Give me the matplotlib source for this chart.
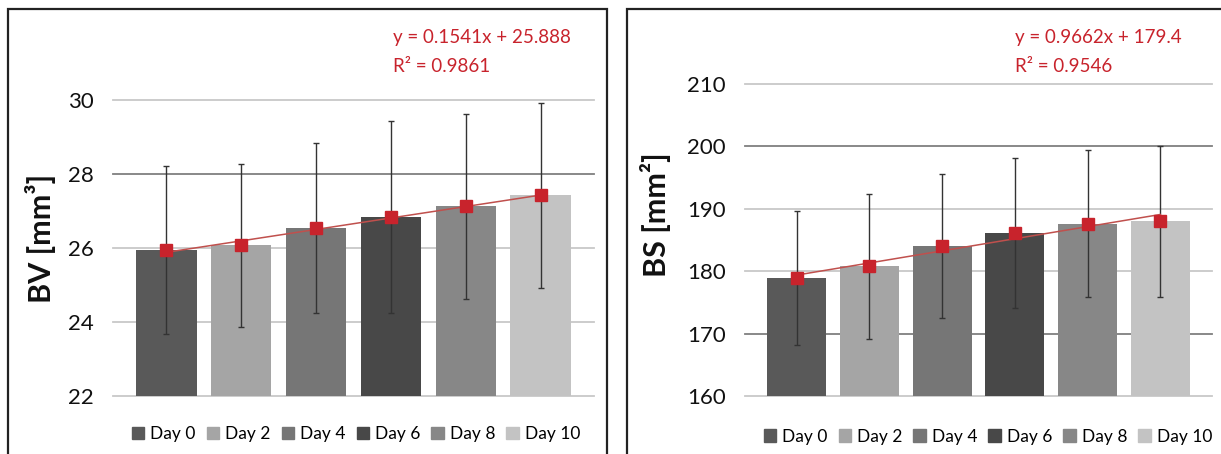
import numpy as np
import matplotlib

matplotlib.use('Agg')
from matplotlib import pyplot as plt
from matplotlib.patches import Rectangle, Patch

plt.rcParams['font.family'] = ['Lato', 'DejaVu Sans']

days = [0, 2, 4, 6, 8, 10]
labels = ['Day 0', 'Day 2', 'Day 4', 'Day 6', 'Day 8', 'Day 10']
colors = ['#595959', '#a5a5a5', '#767676', '#484848', '#878787', '#c3c3c3']

bv_mean = [25.95, 26.07, 26.53, 26.84, 27.13, 27.42]
bv_sd = [2.27, 2.20, 2.30, 2.59, 2.50, 2.50]
bs_mean = [178.9, 180.8, 184.0, 186.1, 187.6, 188.0]
bs_sd = [10.8, 11.6, 11.5, 12.0, 11.8, 12.1]

red = '#c8232c'

fig = plt.figure(figsize=(12.21, 4.54), dpi=100)

# panel frames
fig.patches.append(Rectangle((8 / 1221, -0.1), 599 / 1221, 1.1 - 9 / 454, transform=fig.transFigure,
                             fill=False, edgecolor='#222222', linewidth=1.6))
fig.patches.append(Rectangle((627 / 1221, -0.1), 600 / 1221, 1.1 - 9 / 454, transform=fig.transFigure,
                             fill=False, edgecolor='#222222', linewidth=1.6))


def panel(rect, mean, sd, ylim, step, ylabel, eq, r2, dark_grid, label_xy, eq_x, leg_x):
    ax = fig.add_axes(rect)
    x = np.array(days)
    ax.bar(x, mean, width=1.62, color=colors, zorder=2)
    ax.errorbar(x, mean, yerr=sd, fmt='none', ecolor='#333333', elinewidth=1.0,
                capsize=2.5, capthick=1.0, zorder=3)
    k, b = np.polyfit(x, mean, 1)
    ax.plot(x, k * x + b, color='#c0504d', linewidth=1.1, zorder=4)
    ax.plot(x, mean, 's', color=red, markersize=8, zorder=5, linestyle='none')
    ax.set_xlim(-1.42, 11.42)
    ax.set_ylim(*ylim)
    ticks = np.arange(ylim[0], ylim[1] + step / 2, step)
    ax.set_yticks(ticks)
    ax.set_yticklabels([f'{t:g}' for t in ticks], fontsize=16, color='#111111')
    for t in ticks:
        c = '#7f7f7f' if t in dark_grid else '#c8c8c8'
        ax.axhline(t, color=c, linewidth=1.3, zorder=1, clip_on=False)
    ax.set_xticks([])
    for s in ax.spines.values():
        s.set_visible(False)
    ax.tick_params(axis='y', length=0, pad=14)
    fig.text(label_xy[0], label_xy[1], ylabel, rotation=90, ha='center', va='center',
             fontsize=22, fontweight='bold', color='#111111')
    fig.text(eq_x, 1 - 38 / 454, eq, color=red, fontsize=13.5, va='center')
    fig.text(eq_x, 1 - 66 / 454, r2, color=red, fontsize=13.5, va='center')
    handles = [Patch(color=c, label=l) for c, l in zip(colors, labels)]
    ax.legend(handles=handles, loc='center', bbox_to_anchor=(leg_x, -0.13), ncol=6,
              frameon=False, fontsize=12.5, handlelength=0.7, handleheight=0.7,
              handletextpad=0.35, columnspacing=0.65)
    return ax


panel([113 / 1221, 58 / 454, 481 / 1221, 296 / 454], bv_mean, bv_sd, (22, 30), 2,
      'BV [mm³]', 'y = 0.1541x + 25.888', 'R² = 0.9861', [28], (40 / 1221, 1 - 238 / 454), 393 / 1221, 0.505)
panel([745 / 1221, 58 / 454, 467 / 1221, 312 / 454], bs_mean, bs_sd, (160, 210), 10,
      'BS [mm²]', 'y = 0.9662x + 179.4', 'R² = 0.9546', [200, 170], (655 / 1221, 1 - 215 / 454), 1015 / 1221, 0.52)

fig.savefig('out.png', dpi=100)
